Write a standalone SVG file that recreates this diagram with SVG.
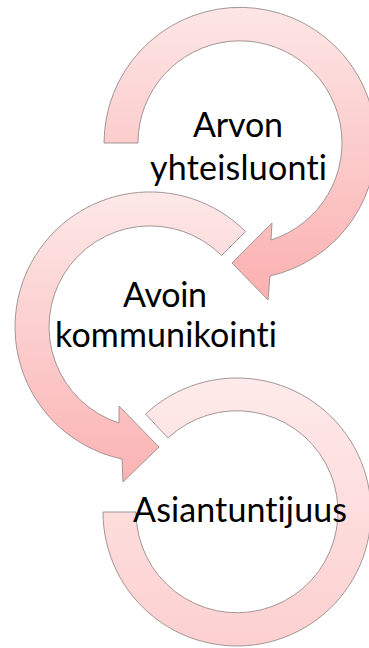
<svg xmlns="http://www.w3.org/2000/svg" width="369" height="648" viewBox="0 0 369 648">
  <style>
    .arrow { stroke: #9a8b8b; stroke-width: 0.9; stroke-linejoin: miter; }
    .label { font-family: Lato, "Open Sans", "Liberation Sans", sans-serif; font-size: 34px; fill: #000; text-anchor: middle;
             font-variant-ligatures: none; font-feature-settings: "liga" 0, "clig" 0; }
  </style>
  <defs>
    <linearGradient id="fill1" x1="0" y1="0" x2="0" y2="1">
      <stop offset="0" stop-color="#fde6e6"/>
      <stop offset="1" stop-color="#fbb0b0"/>
    </linearGradient>
    <linearGradient id="fill2" x1="0" y1="0" x2="0" y2="1">
      <stop offset="0" stop-color="#fde8e8"/>
      <stop offset="1" stop-color="#fbb3b3"/>
    </linearGradient>
    <linearGradient id="fill3" x1="0" y1="0" x2="0" y2="1">
      <stop offset="0" stop-color="#feeaea"/>
      <stop offset="1" stop-color="#fdd0d0"/>
    </linearGradient>
  </defs>

  <!-- circular arrows -->
  <g id="connectors">
    <!-- top arrow: clockwise from the left, head at the bottom -->
    <path id="arrow1" class="arrow" fill="url(#fill1)"
          d="M104,143 A136,136 0 1 1 270,276 L268,300 L232,263 L272,223 L271,240 A102,102 0 1 0 138,143 Z"/>
    <!-- middle arrow: counter-clockwise from upper right, head at the bottom -->
    <path id="arrow2" class="arrow" fill="url(#fill2)"
          d="M245.5,231.5 A135,135 0 1 0 122,459 L123,482 L159,447 L119,406 L119,423 A101,101 0 1 1 221.5,255.5 Z"/>
    <!-- bottom ring: open arc without head -->
    <path id="arrow3" class="arrow" fill="url(#fill3)"
          d="M103,512 A134,134 0 1 0 145.6,414 L168,438 A101,101 0 1 1 136,512 Z"/>
  </g>

  <g id="node1">
    <text class="label" x="238" y="137" textLength="90">Arvon</text>
    <text class="label" x="238.5" y="180" textLength="177">yhteisluonti</text>
  </g>
  <g id="node2">
    <text class="label" x="165" y="307" textLength="84">Avoin</text>
    <text class="label" x="166" y="347" textLength="222">kommunikointi</text>
  </g>
  <g id="node3">
    <text class="label" x="240" y="522" textLength="214">Asiantuntijuus</text>
  </g>
</svg>
